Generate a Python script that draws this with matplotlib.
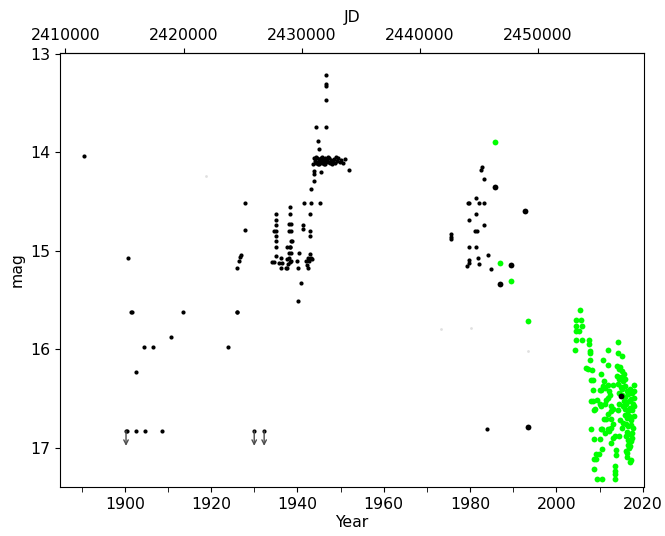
import matplotlib
matplotlib.use('Agg')
import matplotlib.pyplot as plt
from matplotlib.ticker import MultipleLocator, FormatStrFormatter

plt.rcParams['font.size'] = 11.3

# small black points (archival plates)
plate_year = [1890.5, 1900.8, 1901.4, 1901.6, 1902.6, 1904.5, 1906.5, 1910.7, 1913.5,
              1923.9, 1925.9, 1926.1, 1926.1, 1926.5, 1926.7, 1926.9, 1927.8, 1927.8,
              1900.5, 1902.5, 1904.6, 1908.6,
              1934.2, 1934.6, 1934.6, 1935.15, 1935.15, 1935.15, 1935.15, 1935.15, 1935.15,
              1935.15, 1935.15, 1935.8, 1936.1, 1936.1, 1936.5, 1937.3,
              1937.7, 1938.1, 1938.3, 1938.3, 1938.1, 1938.5, 1938.3, 1938.6, 1938.8, 1938.5,
              1938.1, 1938.5, 1938.1, 1938.3, 1937.8, 1937.7, 1938.5, 1938.4, 1937.6,
              1940.0, 1940.15, 1940.2, 1940.4, 1940.9, 1941.2, 1941.2, 1941.5, 1941.9,
              1942.3, 1942.4, 1942.5, 1942.7, 1942.85, 1942.9, 1942.9, 1942.9, 1943.1,
              1943.1, 1943.3, 1943.15, 1943.85, 1943.85, 1943.9, 1944.38, 1944.85, 1945.0,
              1945.2, 1945.5, 1946.54, 1946.54, 1946.54, 1946.54, 1946.54,
              1943.6, 1943.9, 1944.1, 1944.3, 1944.5, 1944.7, 1944.9, 1945.1, 1945.3,
              1945.5, 1945.7, 1945.9, 1946.1, 1946.3, 1946.5, 1946.7, 1946.9, 1947.1,
              1947.3, 1947.6, 1947.9, 1948.2, 1948.5, 1948.8, 1949.1, 1949.5, 1949.8,
              1950.2, 1950.6, 1951.0, 1951.9, 1944.2, 1944.8, 1945.6, 1946.2, 1947.0,
              1948.0, 1949.0,
              1975.6, 1975.6, 1975.6, 1979.2, 1979.45, 1979.7, 1979.85, 1979.85, 1979.85,
              1979.85, 1981.2, 1981.3, 1981.3, 1981.3, 1981.7, 1981.8, 1982.1, 1982.1,
              1982.6, 1982.8, 1983.15, 1983.15, 1983.3, 1984.0, 1984.2, 1984.8]
plate_mag = [14.04, 15.07, 15.62, 15.62, 16.23, 15.98, 15.98, 15.87, 15.62,
             15.98, 15.62, 15.62, 15.17, 15.10, 15.06, 15.04, 14.52, 14.79,
             16.83, 16.83, 16.83, 16.83,
             15.11, 15.11, 14.80, 14.63, 14.69, 14.74, 14.80, 14.85, 14.90,
             14.96, 15.05, 15.12, 15.07, 15.17, 15.12, 15.17,
             14.96, 14.73, 14.56, 14.63, 14.80, 14.73, 14.96, 14.80, 14.90, 14.90,
             15.02, 15.02, 15.07, 15.11, 15.13, 15.17, 15.10, 14.96, 15.08,
             15.10, 15.17, 15.51, 15.02, 15.33, 14.74, 14.78, 14.52, 15.10,
             15.14, 15.17, 15.07, 15.10, 15.03, 14.63, 14.80, 14.85, 14.52,
             15.07, 15.08, 14.37, 14.19, 14.29, 14.22, 13.74, 13.89, 13.97,
             14.52, 14.20, 13.22, 13.31, 13.33, 13.47, 13.74,
             14.12, 14.06, 14.09, 14.11, 14.06, 14.10, 14.07, 14.12, 14.09,
             14.06, 14.11, 14.08, 14.10, 14.06, 14.12, 14.09, 14.07, 14.10,
             14.06, 14.11, 14.08, 14.10, 14.07, 14.11, 14.09, 14.06, 14.10,
             14.08, 14.11, 14.07, 14.18, 14.05, 14.12, 14.05, 14.12, 14.05,
             14.12, 14.05,
             14.83, 14.86, 14.88, 15.15, 14.52, 15.12, 14.52, 14.69, 14.96,
             15.09, 14.80, 14.46, 14.63, 14.96, 14.80, 15.07, 14.52, 15.13,
             14.18, 14.15, 14.27, 14.52, 14.74, 16.81, 15.04, 15.18]

# limits (fainter than)
limit_year = [1900.3, 1930.0, 1932.3]
limit_mag = [16.83, 16.83, 16.83]

# larger black points
ccd_year = [1985.8, 1986.85, 1989.5, 1992.7, 1993.5, 2015.0]
ccd_mag = [14.35, 15.34, 15.14, 14.60, 16.79, 16.47]

# faint grey points
faint_year = [1918.8, 1973.2, 1980.3, 1993.4]
faint_mag = [14.24, 15.79, 15.78, 16.02]

# green points
green_year = [1985.8, 1986.85, 1989.5, 1993.5,
              2005.54, 2004.62, 2005.62, 2004.62, 2005.93, 2004.62, 2005.16, 2004.62,
              2005.93, 2007.47, 2004.39, 2007.47, 2007.7, 2007.78, 2014.24, 2011.93,
              2014.39, 2015.16, 2007.7, 2010.77, 2011.93, 2006.93, 2007.31, 2008.31,
              2010.23, 2007.93, 2008.47, 2011.0, 2011.93, 2013.08, 2010.77, 2011.3,
              2008.47, 2010.0, 2010.39, 2012.3, 2012.54, 2017.93, 2017.93, 2017.93,
              2011.54, 2011.93, 2008.08, 2008.47, 2009.47, 2010.0, 2010.39, 2011.16,
              2012.7, 2013.08, 2009.0, 2008.7, 2012.7, 2011.93, 2011.0, 2011.54,
              2012.7, 2013.08, 2012.7, 2007.93, 2010.23, 2010.62, 2011.93, 2011.16,
              2012.3, 2013.62, 2013.08, 2008.7, 2010.0, 2012.7, 2010.54, 2013.85,
              2013.85, 2009.08, 2009.85, 2008.62, 2009.23, 2008.7, 2013.62, 2013.62,
              2013.62, 2009.39, 2010.62, 2013.62, 2016.39, 2016.39, 2017.31, 2017.16,
              2016.85, 2016.16,
              2014.0, 2014.4, 2014.8, 2015.2, 2015.6, 2014.1, 2014.6, 2015.0, 2015.5,
              2016.0, 2014.3, 2014.9, 2015.3, 2015.8, 2016.3, 2014.5, 2015.1, 2016.0,
              2016.6, 2017.1, 2017.5, 2015.7, 2016.2, 2016.8, 2017.3, 2017.8, 2015.4,
              2016.0, 2016.5, 2017.0, 2017.6, 2018.0, 2015.8, 2016.3, 2016.9, 2017.4,
              2017.9, 2016.1, 2016.6, 2017.2, 2017.7, 2016.4, 2016.9, 2017.5, 2016.7,
              2017.2, 2017.6, 2016.5, 2017.0, 2014.6, 2014.2, 2014.8, 2015.2, 2014.5,
              2015.5, 2016.2]
green_mag = [13.90, 15.125, 15.31, 15.71,
             15.60, 15.70, 15.70, 15.76, 15.76, 15.81, 15.81, 15.91,
             15.91, 15.91, 16.01, 15.95, 16.02, 16.04, 15.93, 16.01,
             16.04, 16.07, 16.11, 16.11, 16.16, 16.19, 16.20, 16.21,
             16.25, 16.31, 16.31, 16.32, 16.36, 16.36, 16.37, 16.39,
             16.41, 16.41, 16.41, 16.42, 16.46, 16.36, 16.42, 16.49,
             16.51, 16.49, 16.52, 16.52, 16.51, 16.56, 16.58, 16.56,
             16.58, 16.61, 16.61, 16.62, 16.63, 16.66, 16.71, 16.71,
             16.71, 16.76, 16.80, 16.81, 16.81, 16.81, 16.81, 16.85,
             16.83, 16.88, 16.90, 16.91, 16.91, 16.95, 17.01, 17.02,
             17.07, 17.06, 17.06, 17.11, 17.11, 17.21, 17.18, 17.23,
             17.27, 17.32, 17.32, 17.32, 17.05, 17.09, 17.12, 17.14,
             17.00, 17.03,
             16.17, 16.20, 16.18, 16.22, 16.25, 16.27, 16.30, 16.28, 16.32,
             16.30, 16.35, 16.38, 16.40, 16.37, 16.42, 16.44, 16.46, 16.48,
             16.45, 16.40, 16.44, 16.52, 16.55, 16.52, 16.50, 16.55, 16.58,
             16.61, 16.63, 16.60, 16.62, 16.58, 16.67, 16.70, 16.68, 16.72,
             16.68, 16.76, 16.78, 16.77, 16.80, 16.84, 16.86, 16.85, 16.92,
             16.93, 16.90, 16.97, 16.98, 16.55, 16.62, 16.72, 16.80, 16.88,
             16.75, 16.88]


def yr2jd(y):
    return 2451545.0 + (y - 2000.0) * 365.25


def jd2yr(j):
    return 2000.0 + (j - 2451545.0) / 365.25


fig = plt.figure(figsize=(6.65, 5.36), dpi=100)
ax = fig.add_axes([0.0902, 0.0909, 0.8782, 0.8108])

ax.plot(faint_year, faint_mag, 'o', color='0.88', ms=2, mec='none')
ax.plot(plate_year, plate_mag, 'o', color='k', ms=3, mec='none')
ax.plot(limit_year, limit_mag, 'o', color='k', ms=3, mec='none')
for x, y in zip(limit_year, limit_mag):
    ax.annotate('', xy=(x, y + 0.15), xytext=(x, y),
                arrowprops=dict(arrowstyle='->', color='0.3', lw=1, mutation_scale=8,
                                shrinkA=0, shrinkB=0))
ax.plot(green_year, green_mag, 'o', color='#00ff00', ms=4.2, mec='none')
ax.plot(ccd_year, ccd_mag, 'o', color='k', ms=4.2, mec='none')

ax.set_xlim(1885, 2020.3)
ax.set_ylim(17.4, 12.99)
ax.xaxis.set_major_locator(MultipleLocator(20))
ax.xaxis.set_minor_locator(MultipleLocator(10))
ax.tick_params(axis='x', which='minor', length=3.5)
ax.set_yticks([13, 14, 15, 16, 17])
ax.set_xlabel('Year', labelpad=2)
ax.set_ylabel('mag')

top = ax.secondary_xaxis('top', functions=(yr2jd, jd2yr))
top.set_xticks([2410000, 2420000, 2430000, 2440000, 2450000])
top.xaxis.set_major_formatter(FormatStrFormatter('%d'))
top.set_xlabel('JD')

fig.savefig('out.png', dpi=100)
